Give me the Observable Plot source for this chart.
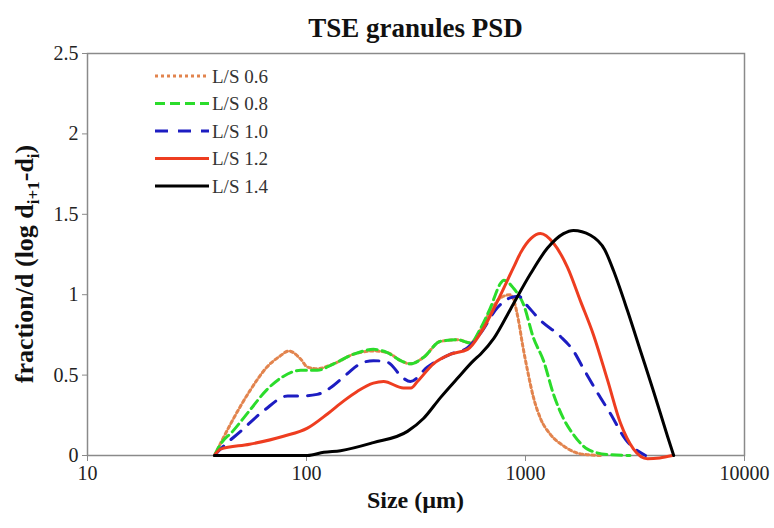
<!DOCTYPE html>
<html><head><meta charset="utf-8">
<script src="https://cdn.jsdelivr.net/npm/d3@7"></script>
<script src="https://cdn.jsdelivr.net/npm/@observablehq/plot@0.6"></script>
<style>
body{margin:0;background:#fff;}
#title{height:40px;width:774px;box-sizing:border-box;padding-left:87px;padding-right:30px;text-align:center;font-weight:bold;font-size:27px;font-family:'Liberation Serif','DejaVu Serif','Noto Serif',serif;line-height:56px;color:#111;}
</style></head><body>
<div id="title">TSE granules PSD</div>
<div id="chart"></div>
<script>
const serif = "'Liberation Serif', 'DejaVu Serif', 'Noto Serif', serif";
const seriesNames = ["L/S 0.6","L/S 0.8","L/S 1.0","L/S 1.2","L/S 1.4"];
const xTicks = [10,100,1000,10000];
const yTicks = [0,0.5,1,1.5,2,2.5];
// [size µm, fraction/d]
const ls06 = [[38,0],[46,0.22],[55,0.40],[66,0.55],[76,0.62],[83,0.65],[94,0.60],[101,0.55],[112,0.54],[133,0.57],[164,0.63],[202,0.65],[234,0.64],[269,0.59],[298,0.57],[342,0.61],[409,0.71],[489,0.72],[561,0.70],[623,0.78],[692,0.90],[769,0.98],[854,1.0],[929,0.84],[969,0.69],[1021,0.53],[1088,0.36],[1171,0.23],[1301,0.13],[1491,0.06],[1783,0.01],[2200,0]];
const ls08 = [[38,0],[40.5,0.07],[46,0.15],[55,0.28],[66,0.41],[78,0.49],[94,0.53],[112,0.53],[133,0.57],[164,0.63],[202,0.66],[234,0.64],[269,0.59],[298,0.57],[342,0.61],[409,0.71],[489,0.72],[561,0.70],[623,0.79],[692,0.92],[769,1.07],[795,1.09],[882,1.04],[979,0.94],[1088,0.73],[1208,0.59],[1343,0.38],[1491,0.23],[1656,0.13],[1919,0.04],[2368,0.006],[3000,0]];
const ls10 = [[38,0],[40.5,0.04],[50,0.15],[64,0.28],[82,0.37],[94,0.37],[112,0.38],[125,0.41],[154,0.51],[171,0.56],[202,0.59],[234,0.58],[277,0.48],[298,0.46],[357,0.55],[455,0.63],[544,0.67],[623,0.76],[745,0.92],[850,0.98],[930,0.99],[1021,0.93],[1171,0.84],[1445,0.74],[1656,0.65],[1840,0.54],[2132,0.39],[2444,0.26],[2862,0.10],[3532,0]];
const ls12 = [[38,0],[40.5,0.04],[55,0.07],[78.5,0.12],[101,0.17],[125,0.26],[148,0.34],[171,0.40],[202,0.45],[225,0.46],[277,0.42],[300,0.42],[321,0.46],[380,0.57],[455,0.63],[544,0.66],[623,0.76],[745,0.96],[882,1.17],[949,1.26],[1060,1.35],[1171,1.38],[1343,1.32],[1555,1.17],[1783,0.96],[2044,0.75],[2368,0.47],[2716,0.20],[3114,0.04],[3607,-0.02],[4100,-0.015],[4690,0]];
const ls14 = [[38,0],[60,0],[94,0],[101,0],[120,0.02],[143,0.03],[202,0.08],[289,0.15],[342,0.23],[409,0.36],[489,0.48],[579,0.59],[623,0.63],[718,0.73],[854,0.91],[1054,1.13],[1260,1.29],[1491,1.38],[1656,1.40],[1981,1.37],[2300,1.28],[2522,1.15],[2923,0.90],[3351,0.65],[3841,0.40],[4450,0.12],[4750,0]];

const allSeries = [ls06, ls08, ls10, ls12, ls14];
const colors = ["#e2844e","#2bdc2b","#1d1dc2","#ee3d20","#000000"];
const dashes = ["3,3","10,5","13,10",null,null];

const rows = allSeries.map((s, i) => s.map(([x, y]) => ({series: seriesNames[i], x, y})));

const chart = Plot.plot({
  width: 774, height: 488,
  marginLeft: 87, marginRight: 30, marginTop: 13, marginBottom: 73,
  style: {fontFamily: serif, fontSize: "20px", color: "#222", background: "#fff"},
  x: {type: "log", domain: [10, 10000]},
  y: {domain: [0, 2.5]},
  marks: [
    Plot.frame({stroke: "#8a8a8a", strokeWidth: 1.5}),
    Plot.axisX({ticks: xTicks, tickFormat: d => String(d), tickSize: 6, tickPadding: 4, label: null, stroke: "#8a8a8a", fontSize: 20}),
    Plot.axisY({ticks: yTicks, tickFormat: d => String(d), tickSize: 5, tickPadding: 4, label: null, stroke: "#8a8a8a", fontSize: 20}),
    ...rows.map((r, i) => Plot.line(r, {x: "x", y: "y", stroke: colors[i], strokeWidth: 3,
      strokeDasharray: dashes[i] || undefined, curve: "monotone-x"}))
  ]
});
document.getElementById("chart").appendChild(chart);

const svg = d3.select(chart);
// y-axis label with subscripts
const yl = svg.append("text")
  .attr("transform", "translate(33,224) rotate(-90)")
  .attr("text-anchor", "middle")
  .style("font-family", serif).attr("font-weight", "bold").attr("font-size", 26).attr("fill", "#111");
yl.append("tspan").text("fraction/d (log d");
yl.append("tspan").attr("font-size", 17).attr("dy", 6).text("i+1");
yl.append("tspan").attr("dy", -6).text("-d");
yl.append("tspan").attr("font-size", 17).attr("dy", 6).text("i");
yl.append("tspan").attr("dy", -6).text(")");
// x-axis label
svg.append("text").attr("x", 415.5).attr("y", 468).attr("text-anchor", "middle")
  .style("font-family", serif).attr("font-weight", "bold").attr("font-size", 24).attr("fill", "#111")
  .text("Size (µm)");
// legend
const lg = svg.append("g");
seriesNames.forEach((name, i) => {
  const y = 36 + i * 27.5;
  lg.append("line").attr("x1", 155).attr("x2", 209).attr("y1", y).attr("y2", y)
    .attr("stroke", colors[i]).attr("stroke-width", 3)
    .attr("stroke-dasharray", dashes[i] || null);
  lg.append("text").attr("x", 212).attr("y", y).attr("dy", "0.35em").attr("text-anchor", "start")
    .style("font-family", serif).attr("font-size", 19).attr("fill", "#333").text(name);
});
</script>
</body></html>
